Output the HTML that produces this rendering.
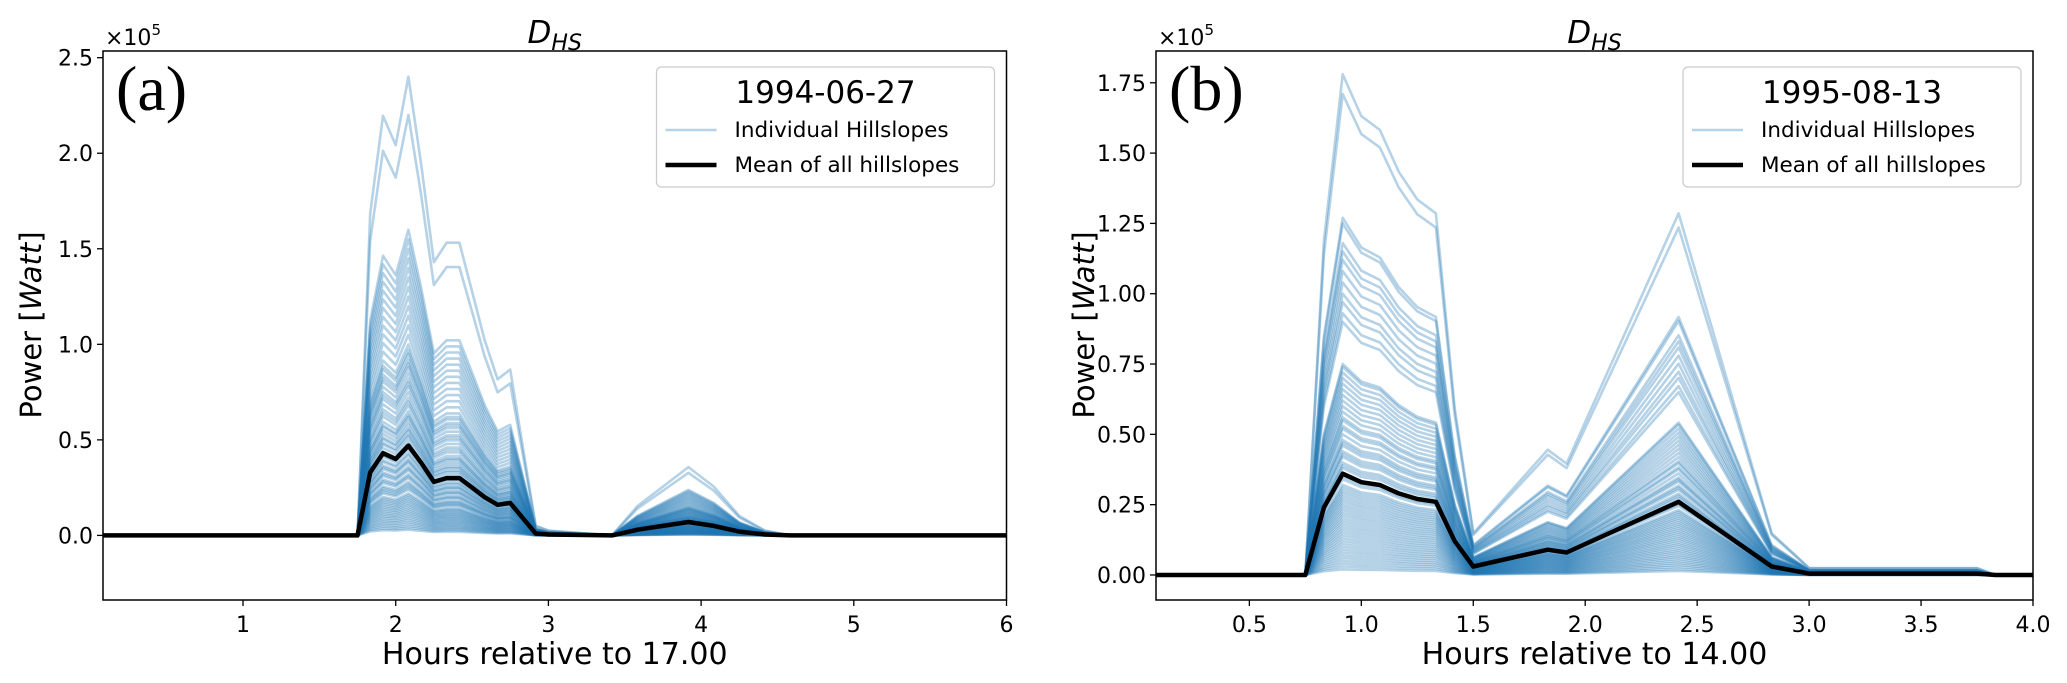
<!DOCTYPE html>
<html><head><meta charset="utf-8">
<style>
html,body{margin:0;padding:0;background:#fff;}
svg{display:block;font-family:"DejaVu Sans","Liberation Sans",sans-serif;}
</style></head>
<body>
<svg id="fig" width="2067" height="683" viewBox="0 0 2067 683" xmlns="http://www.w3.org/2000/svg"></svg>
<script>
// ---- Panel (a) data ----
const aTimes = [0.083,1.75,1.833,1.917,2.0,2.083,2.167,2.25,2.333,2.417,2.5,2.583,2.667,2.75,2.833,2.917,3.0,3.417,3.583,3.75,3.917,4.083,4.25,4.417,4.583,6.0];
const aMean  = [0,0,0.33,0.43,0.40,0.47,0.38,0.28,0.30,0.30,0.25,0.20,0.16,0.17,0.09,0.01,0.005,0.0,0.03,0.05,0.07,0.05,0.02,0.005,0,0];
const aPeaks = [2.40,2.20,1.60,1.55,1.50,1.45,1.40,1.35,1.30,1.25,1.20,1.15,1.10,1.05,1.00,0.97,0.95,0.92,0.90,0.88,0.85,0.82,0.80,0.78,0.75,0.72,0.70,0.68,0.65,0.63,0.62,0.60,0.58,0.56,0.55,0.53,0.52,0.50,0.48,0.47,0.46,0.45,0.43,0.42,0.40,0.39,0.38,0.36,0.35,0.34,0.32,0.31,0.30,0.28,0.27,0.26,0.25,0.24,0.22,0.21,0.20,0.19,0.18,0.17,0.16,0.15,0.14,0.13,0.12,0.11,0.10,0.09,0.08,0.07,0.06,0.05,0.04,0.03];
const aXTicks = [1,2,3,4,5,6];
const aYTicks = [0.0,0.5,1.0,1.5,2.0,2.5];
const aYLabels = ["0.0","0.5","1.0","1.5","2.0","2.5"];
// ---- Panel (b) data ----
const bTimes = [0.083,0.75,0.833,0.917,1.0,1.083,1.167,1.25,1.333,1.417,1.5,1.833,1.917,2.417,2.833,3.0,3.75,3.833,4.0];
const bMean  = [0,0,0.24,0.36,0.33,0.32,0.29,0.27,0.26,0.12,0.03,0.09,0.08,0.26,0.03,0.005,0.005,0,0];
const bPeaks = [1.78,1.71,1.27,1.25,1.18,1.15,1.12,1.08,1.04,1.00,0.97,0.93,0.90,0.75,0.74,0.72,0.70,0.68,0.66,0.64,0.62,0.60,0.58,0.56,0.55,0.53,0.52,0.50,0.48,0.47,0.46,0.44,0.43,0.42,0.40,0.39,0.38,0.36,0.35,0.34,0.32,0.31,0.30,0.29,0.28,0.27,0.26,0.25,0.24,0.23,0.22,0.21,0.20,0.19,0.18,0.17,0.16,0.15,0.14,0.13,0.12,0.11,0.10,0.09,0.08,0.07,0.06,0.05,0.04,0.03,0.02];
const bXTicks = [0.5,1.0,1.5,2.0,2.5,3.0,3.5,4.0];
const bXLabels = ["0.5","1.0","1.5","2.0","2.5","3.0","3.5","4.0"];
const bYTicks = [0,0.25,0.5,0.75,1.0,1.25,1.5,1.75];
const bYLabels = ["0.00","0.25","0.50","0.75","1.00","1.25","1.50","1.75"];

const NS="http://www.w3.org/2000/svg";
const svg=document.getElementById('fig');
function mk(tag,attrs,parent){const e=document.createElementNS(NS,tag);for(const k in attrs)e.setAttribute(k,attrs[k]);(parent||svg).appendChild(e);return e;}

function panel(cfg){
  const g=mk('g',{});
  
  
  const L=cfg.left,R=cfg.right,T=51,B=600;
  const xs=v=>L+(v-cfg.xmin)/(cfg.xmax-cfg.xmin)*(R-L);
  const ys=v=>B-(v-cfg.ymin)/(cfg.ymax-cfg.ymin)*(B-T);
  const clip=mk('clipPath',{id:'clip-'+cfg.id},g);
  mk('rect',{x:L,y:T,width:R-L,height:B-T},clip);
  const lines=mk('g',{'clip-path':'url(#clip-'+cfg.id+')'},g);
  
  
  const peak=Math.max(...cfg.mean);
  cfg.peaks.forEach(p=>{
    const k=p/peak;
    const pts=cfg.times.map((t,i)=>xs(t).toFixed(1)+','+ys(cfg.mean[i]*k).toFixed(1)).join(' ');
    const pl=mk('polyline',{points:pts,fill:'none',stroke:'#1f77b4','stroke-opacity':0.33,'stroke-width':2.6,'stroke-linejoin':'round'},lines);
    
    
  });
  const mpts=cfg.times.map((t,i)=>xs(t).toFixed(1)+','+ys(cfg.mean[i]).toFixed(1)).join(' ');
  const ml=mk('polyline',{points:mpts,fill:'none',stroke:'#000','stroke-width':4.5,'stroke-linejoin':'round'},g);
  
  
  const fr=mk('rect',{x:L,y:T,width:R-L,height:B-T,fill:'none',stroke:'#000','stroke-width':1.5},g);
  
  
  cfg.xticks.forEach((v,i)=>{
    mk('line',{x1:xs(v),x2:xs(v),y1:B,y2:B+6,stroke:'#000','stroke-width':1.3},g);
    const t=mk('text',{x:xs(v),y:B+32,'font-size':22,'text-anchor':'middle'},g);
    t.textContent=cfg.xlabels[i];
    
    
  });
  cfg.yticks.forEach((v,i)=>{
    mk('line',{x1:L-6,x2:L,y1:ys(v),y2:ys(v),stroke:'#000','stroke-width':1.3},g);
    const t=mk('text',{x:L-10,y:ys(v)+8,'font-size':22,'text-anchor':'end'},g);
    t.textContent=cfg.ylabels[i];
    
    
  });
  const ex=mk('text',{x:L+2,y:45,'font-size':22},g);
  ex.innerHTML='×10<tspan dy="-10" font-size="15">5</tspan>';
  
  
  const ti=mk('text',{x:(L+R)/2,y:43,'font-size':31,'text-anchor':'middle','font-style':'italic'},g);
  ti.innerHTML='D<tspan dy="7" font-size="22">HS</tspan>';
  
  
  const pl=mk('text',{x:L+13,y:110,'font-size':64,'font-family':'"Liberation Serif",serif'},g);
  pl.textContent=cfg.tag;
  
  
  const xl=mk('text',{x:(L+R)/2,y:664,'font-size':30,'text-anchor':'middle'},g);
  xl.textContent=cfg.xtitle;
  
  
  const yl=mk('text',{x:0,y:0,'font-size':29,'text-anchor':'middle',transform:'translate('+(L-62)+',325) rotate(-90)'},g);
  yl.innerHTML='Power [<tspan font-style="italic">Watt</tspan>]';
  
  
  // legend
  const lg=mk('g',{},g);
  
  
  const lx=R-350,lw=338;
  mk('rect',{x:lx,y:67,width:lw,height:120,rx:5,fill:'#fff','fill-opacity':0.8,stroke:'#ccc','stroke-width':1.3},lg);
  const lt=mk('text',{x:lx+lw/2,y:103,'font-size':31,'text-anchor':'middle'},lg);
  lt.textContent=cfg.date;
  
  
  mk('line',{x1:lx+9,x2:lx+60,y1:130,y2:130,stroke:'#1f77b4','stroke-opacity':0.33,'stroke-width':2.6},lg);
  const e1=mk('text',{x:lx+78,y:137,'font-size':21.5},lg);
  e1.textContent='Individual Hillslopes';
  
  
  mk('line',{x1:lx+9,x2:lx+60,y1:165,y2:165,stroke:'#000','stroke-width':4.5},lg);
  const e2=mk('text',{x:lx+78,y:172,'font-size':21.5},lg);
  e2.textContent='Mean of all hillslopes';
  
  
}
panel({id:'a',left:103,right:1006.5,xmin:0.083,xmax:6.0,ymin:-0.338,ymax:2.535,times:aTimes,mean:aMean,peaks:aPeaks,
  xticks:aXTicks,xlabels:aXTicks.map(String),yticks:aYTicks,ylabels:aYLabels,tag:'(a)',date:'1994-06-27',xtitle:'Hours relative to 17.00'});
panel({id:'b',left:1156,right:2033,xmin:0.083,xmax:4.0,ymin:-0.089,ymax:1.863,times:bTimes,mean:bMean,peaks:bPeaks,
  xticks:bXTicks,xlabels:bXLabels,yticks:bYTicks,ylabels:bYLabels,tag:'(b)',date:'1995-08-13',xtitle:'Hours relative to 14.00'});
</script>
</body></html>
